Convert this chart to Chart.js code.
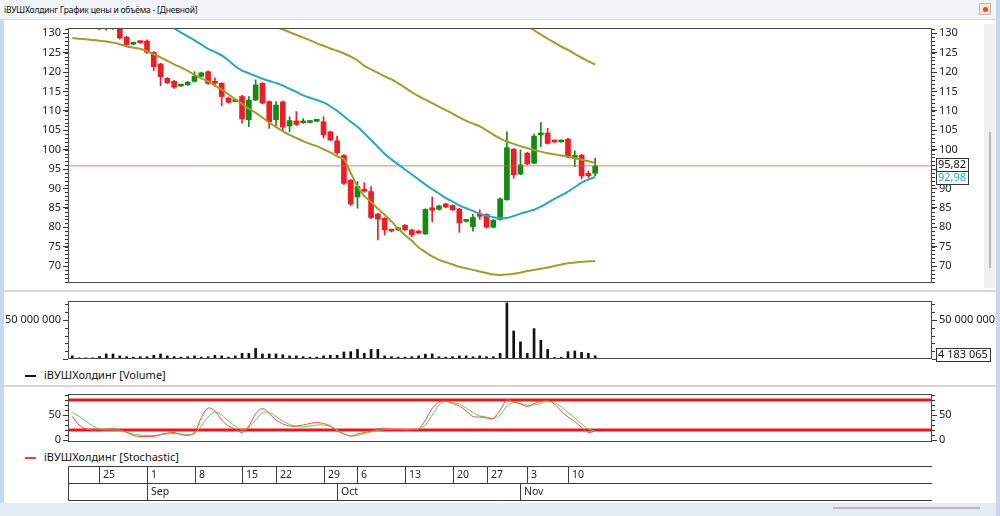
<!DOCTYPE html>
<html lang="ru">
<head>
<meta charset="utf-8">
<title>iВУШХолдинг</title>
<script src="https://cdn.jsdelivr.net/npm/chart.js@4.4.0/dist/chart.umd.min.js"></script>
<style>
  body { margin: 0; width: 1000px; height: 516px; overflow: hidden; position: relative; background: #fff; font-family: "Noto Sans", sans-serif; color: #111; }
  .abs { position: absolute; }
  #titleBar { left: 0; top: 0; width: 1000px; height: 20px; background: #f1f4f8; border-bottom: 1px solid #d5dbe3; box-sizing: border-box; font-size: 8.5px; letter-spacing: -0.2px; line-height: 19px; padding-left: 4px; }
  #icon { left: 979px; top: 3px; width: 12px; height: 12px; background: #f3e3dc; border: 1px solid #d9b8a8; box-sizing: border-box; }
  #icon span { position: absolute; left: 3px; top: 3px; width: 5px; height: 5px; border-radius: 3px; background: #d84a2a; }
  #frameL { left: 0; top: 20px; width: 4px; height: 496px; background: #c6d8ee; }
  #frameR { left: 996px; top: 0; width: 4px; height: 516px; background: #c6d8ee; }
  #frameB { left: 0; top: 503px; width: 1000px; height: 13px; background: #e4ebf3; }
  #scrollV { left: 984px; top: 24px; width: 12px; height: 264px; background: #efefef; }
  #thumbV { left: 989px; top: 132px; width: 2px; height: 136px; background: #b9b9b9; }
  #thumbH { left: 833px; top: 507px; width: 147px; height: 2px; background: #b9b9b9; }
  .sep { left: 4px; width: 992px; height: 2px; background: #d6d6d6; }
  .legend { left: 25px; font-size: 11px; height: 14px; line-height: 14px; white-space: nowrap; }
  .legend i { display: inline-block; width: 11px; height: 2px; vertical-align: middle; margin-right: 8px; }
  canvas { position: absolute; left: 0; }
</style>
</head>
<body>
<div id="titleBar" class="abs">iВУШХолдинг График цены и объёма - [Дневной]</div>
<div id="icon" class="abs"><span></span></div>
<div id="frameL" class="abs"></div>
<div id="scrollV" class="abs"></div>
<div id="thumbV" class="abs"></div>
<div class="sep abs" style="top:290px"></div>
<div class="sep abs" style="top:385px"></div>
<div id="frameB" class="abs"></div>
<div id="thumbH" class="abs"></div>
<div id="frameR" class="abs"></div>
<div class="legend abs" style="top:368px"><i style="background:#111"></i>iВУШХолдинг [Volume]</div>
<div class="legend abs" style="top:450px"><i style="background:#e84040"></i>iВУШХолдинг [Stochastic]</div>

<canvas id="priceChart" width="1000" height="279" style="top:16px"></canvas>
<canvas id="volumeChart" width="1000" height="82" style="top:289px"></canvas>
<canvas id="stochChart" width="1000" height="123" style="top:382px"></canvas>

<script>
// Trading days (one candle each)
const tradingDays = [
    '2025-08-21', '2025-08-22', '2025-08-23', '2025-08-24',
    '2025-08-25', '2025-08-26', '2025-08-27', '2025-08-28', '2025-08-29', '2025-08-30', '2025-08-31',
    '2025-09-01', '2025-09-02', '2025-09-03', '2025-09-04', '2025-09-05', '2025-09-06', '2025-09-07',
    '2025-09-08', '2025-09-09', '2025-09-10', '2025-09-11', '2025-09-12', '2025-09-13', '2025-09-14',
    '2025-09-15', '2025-09-16', '2025-09-17', '2025-09-18', '2025-09-19',
    '2025-09-22', '2025-09-23', '2025-09-24', '2025-09-25', '2025-09-26', '2025-09-27', '2025-09-28',
    '2025-09-29', '2025-09-30', '2025-10-01', '2025-10-02', '2025-10-03',
    '2025-10-06', '2025-10-07', '2025-10-08', '2025-10-09', '2025-10-10', '2025-10-11', '2025-10-12',
    '2025-10-13', '2025-10-14', '2025-10-15', '2025-10-16', '2025-10-17', '2025-10-18', '2025-10-19',
    '2025-10-20', '2025-10-21', '2025-10-22', '2025-10-23', '2025-10-24',
    '2025-10-27', '2025-10-28', '2025-10-29', '2025-10-30', '2025-10-31', '2025-11-01',
    '2025-11-03', '2025-11-04', '2025-11-05', '2025-11-06', '2025-11-07', '2025-11-08',
    '2025-11-10', '2025-11-11', '2025-11-12', '2025-11-13', '2025-11-14'
];

// OHLC
const openPrices = [
    134.0, 134.8, 133.5, 133.0, 132.8, 132.2, 132.5, 132.0, 129.0, 127.2,
    127.8, 128.0, 125.1, 122.1, 118.4, 117.6, 116.4, 116.7, 117.6, 118.9,
    120.1, 117.3, 117.1, 113.3, 112.4, 113.7, 107.7, 112.8, 117.1, 112.4,
    107.7, 112.3, 106.1, 107.4, 106.9, 107.0, 107.3, 107.2, 104.6, 102.3,
    98.5, 92.1, 87.8, 89.6, 89.2, 83.4, 82.3, 79.2, 79.3, 80.5,
    79.3, 78.7, 78.3, 85.0, 84.6, 86.0, 85.6, 84.7, 81.5, 80.1,
    83.0, 83.3, 80.0, 82.0, 87.1, 100.1, 93.7, 99.1, 96.5, 103.8,
    104.3, 102.2, 102.0, 102.7, 98.0, 98.6, 93.9, 93.9
];
const highPrices = [
    135.5, 135.2, 134.2, 133.8, 133.5, 133.0, 133.2, 132.3, 129.3, 127.6,
    128.0, 128.3, 125.3, 122.3, 118.6, 117.9, 116.8, 117.6, 120.1, 120.0,
    120.3, 118.5, 117.3, 113.6, 112.8, 114.0, 113.7, 118.0, 117.3, 112.6,
    112.4, 112.6, 108.5, 109.8, 108.0, 107.4, 107.6, 108.5, 104.8, 103.5,
    98.7, 92.3, 91.8, 91.5, 90.5, 83.6, 82.5, 79.4, 80.0, 80.7,
    79.5, 79.2, 84.8, 87.8, 85.7, 86.2, 85.8, 84.9, 81.9, 83.3,
    84.5, 83.5, 82.0, 87.6, 104.6, 100.3, 99.9, 99.3, 104.0, 107.0,
    105.5, 102.4, 102.4, 102.9, 99.7, 98.8, 94.5, 97.8
];
const lowPrices = [
    133.2, 133.0, 132.4, 131.8, 130.9, 130.8, 131.0, 128.5, 126.8, 127.0,
    127.4, 124.8, 120.4, 116.5, 117.0, 115.8, 116.3, 116.6, 117.4, 118.8,
    116.8, 116.3, 111.3, 112.0, 112.3, 106.8, 105.9, 112.6, 111.8, 105.5,
    106.0, 104.8, 104.6, 106.2, 106.8, 106.9, 107.2, 103.0, 102.3, 98.8,
    91.0, 85.6, 84.9, 89.0, 82.2, 76.7, 78.0, 78.8, 79.1, 79.2,
    77.5, 78.3, 78.1, 81.4, 84.4, 85.0, 84.3, 78.7, 81.3, 79.0,
    82.0, 79.8, 79.8, 81.8, 86.9, 92.6, 93.5, 96.1, 96.3, 100.8,
    101.4, 101.8, 101.9, 97.9, 95.6, 92.5, 92.8, 93.3
];
const closePrices = [
    134.8, 133.5, 133.0, 132.6, 132.2, 132.5, 132.0, 128.8, 127.1, 127.5,
    127.6, 125.1, 121.4, 118.8, 117.2, 116.1, 116.6, 117.4, 118.9, 119.8,
    117.1, 117.1, 113.7, 112.2, 112.6, 107.9, 112.8, 116.7, 112.0, 107.2,
    111.5, 105.8, 107.5, 106.5, 107.1, 107.2, 107.5, 103.8, 102.5, 99.2,
    91.3, 86.0, 90.5, 89.3, 82.5, 82.1, 79.3, 79.0, 79.8, 79.3,
    78.0, 78.5, 84.6, 84.4, 85.5, 85.2, 84.5, 81.1, 81.7, 82.5,
    82.8, 80.0, 81.8, 87.3, 100.5, 93.5, 96.1, 96.3, 103.5, 104.1,
    101.6, 102.0, 102.2, 98.1, 98.3, 93.2, 93.3, 95.82
];

// Bollinger bands (olive) and moving average (cyan)
const bbUpper = [
    null, null, null, null, null, null, null, null, null, null,
    null, null, null, null, null, null, null, null, null, null,
    null, null, null, null, null, null, null, null, null, null,
    null, null, null, null, null, null, null, null, null, null,
    null, null, null, null, null, null, null, null, null, null,
    null, null, null, null, null, null, null, null, null, null,
    null, null, null, 138.0, 136.4, 135.0, 133.5, 132.1, 130.8, 129.7,
    128.6, 127.6, 126.6, 125.7, 124.7, 123.7, 122.8, 121.9
];
const bbMiddle = [
    null, null, null, null, null, null, null, null, null, null,
    null, null, null, null, null, null, null, null, null, null,
    null, null, null, null, null, 135.0, 134.2, 133.5, 132.7, 132.0,
    131.5, 131.0, 130.3, 129.6, 128.9, 128.2, 127.4, 126.8, 126.1, 125.5,
    124.8, 124.0, 123.0, 121.6, 120.7, 119.8, 118.9, 118.1, 117.1, 116.0,
    114.8, 113.8, 112.9, 112.0, 111.1, 110.2, 109.3, 108.3, 107.4, 106.7,
    106.0, 105.0, 103.9, 102.9, 102.1, 101.5, 100.9, 100.4, 99.9, 99.5,
    99.1, 98.8, 98.5, 98.2, 97.8, 97.4, 97.0, 96.6
];
const bbLower = [
    128.8, 128.6, 128.5, 128.3, 128.1, 127.9, 127.6, 127.2, 126.6, 126.3,
    126.0, 125.4, 124.6, 123.8, 122.9, 122.0, 121.2, 120.3, 119.3, 118.4,
    117.6, 116.5, 115.5, 114.3, 113.0, 111.8, 110.6, 109.5, 108.3, 107.0,
    105.8, 104.8, 103.8, 103.0, 102.2, 101.5, 100.9, 100.1, 99.3, 98.3,
    97.5, 94.0, 90.5, 88.0, 86.5, 84.8, 83.2, 81.5, 79.6, 78.0,
    76.5, 74.8, 73.6, 72.5, 71.6, 71.0, 70.4, 69.8, 69.4, 69.0,
    68.6, 68.2, 67.8, 67.7, 67.8, 68.0, 68.3, 68.7, 69.0, 69.3,
    69.6, 70.0, 70.4, 70.7, 70.9, 71.1, 71.2, 71.3
];
const maLine = [
    null, null, null, null, null, null, null, null, null, null,
    null, null, null, 133.5, 132.3, 131.3, 130.2, 129.2, 128.2, 127.1,
    126.0, 125.2, 124.3, 123.0, 121.5, 120.4, 119.7, 119.0, 118.3, 117.7,
    117.2, 116.5, 115.7, 114.9, 114.0, 113.4, 112.8, 112.2, 111.2, 110.0,
    108.6, 107.2, 105.9, 104.2, 102.5, 100.7, 98.9, 97.5, 96.2, 94.9,
    93.6, 92.3, 91.0, 89.8, 88.7, 87.5, 86.6, 85.6, 84.9, 84.2,
    83.5, 83.0, 82.6, 82.3, 82.4, 82.9, 83.5, 84.0, 84.5, 85.3,
    86.3, 87.3, 88.2, 89.2, 90.3, 91.5, 92.3, 92.98
];

// Volume
const volumes = [
    4000000, 1500000, 1500000, 1500000, 3200000, 6500000, 6500000, 4000000, 3000000, 2400000,
    3000000, 3000000, 4800000, 6500000, 4000000, 3000000, 2400000, 3000000, 4000000, 2400000,
    3000000, 4800000, 4000000, 2400000, 4000000, 7300000, 7300000, 13500000, 6500000, 6500000,
    6500000, 5400000, 4000000, 4000000, 3000000, 2400000, 2400000, 4000000, 4800000, 4800000,
    9000000, 9400000, 12300000, 7300000, 12300000, 12300000, 4000000, 3000000, 2400000, 2400000,
    3000000, 4000000, 6200000, 6500000, 3000000, 2400000, 3000000, 4000000, 4000000, 3000000,
    4000000, 3000000, 3000000, 7300000, 72000000, 36000000, 22000000, 7300000, 39000000, 24000000,
    12300000, 1800000, 2200000, 9400000, 10300000, 8600000, 7300000, 4183065
];

// Stochastic %K (red) and %D (green)
const stochK = [
    47, 30, 22, 20, 20, 21, 22, 20, 16, 9,
    7, 7, 7, 11, 14, 15, 11, 9, 14, 45,
    64, 58, 40, 28, 22, 15, 28, 52, 63, 53,
    40, 32, 28, 28, 30, 33, 35, 33, 28, 18,
    12, 8, 12, 15, 18, 22, 23, 21, 21, 20,
    21, 22, 40, 63, 76, 78, 73, 68, 58, 47,
    46, 44, 43, 60, 80, 76, 72, 67, 73, 77,
    79, 72, 58, 46, 37, 25, 15, 18
];
const stochD = [
    55, 47, 38, 28, 22, 20, 20, 19, 15, 12,
    10, 9, 9, 10, 12, 13, 12, 11, 13, 28,
    46, 56, 50, 38, 28, 20, 25, 40, 55, 55,
    47, 38, 31, 27, 26, 28, 30, 30, 27, 20,
    13, 8, 9, 13, 16, 19, 21, 21, 21, 21,
    21, 22, 30, 50, 70, 77, 75, 72, 64, 55,
    48, 46, 43, 50, 68, 75, 73, 70, 70, 73,
    77, 75, 66, 55, 44, 32, 22, 18
];
const stochLevels = [80, 20];

const monthNames = ['Jan', 'Feb', 'Mar', 'Apr', 'May', 'Jun', 'Jul', 'Aug', 'Sep', 'Oct', 'Nov', 'Dec'];

// Visible index range of the shared x axis
const X_MIN = -0.63;
const X_MAX = 126.6;

const OLIVE = '#a29c2a';
const CYAN = '#27a8bd';
const UP = '#138a13';
const DOWN = '#ee1c24';

Chart.defaults.font.family = '"Noto Sans", sans-serif';
Chart.defaults.font.size = 11;
Chart.defaults.color = '#222';
Chart.defaults.animation = false;
Chart.defaults.events = [];

const lastIdx = closePrices.length - 1;
const lastClose = closePrices[lastIdx];
const lastMa = maLine[lastIdx];
const lastVolume = volumes[lastIdx];

const dayObjs = tradingDays.map(d => new Date(d + 'T00:00:00Z'));
const weekStarts = dayObjs.map((d, i) => d.getUTCDay() === 1 ? i : -1).filter(i => i >= 0);
const monthStarts = dayObjs.map((d, i) => i > 0 && d.getUTCMonth() !== dayObjs[i - 1].getUTCMonth() ? i : -1).filter(i => i >= 0);

function pts(arr) {
    return arr.map((v, i) => ({ x: i, y: v }));
}

function spaced(v) {
    return String(Math.round(v)).replace(/\B(?=(\d{3})+(?!\d))/g, ' ');
}

function comma(v) {
    return v.toFixed(2).replace('.', ',');
}

function xAxis() {
    return { type: 'linear', display: false, offset: false, min: X_MIN, max: X_MAX };
}

function yAxis(position, min, max, step, fmt) {
    return {
        position: position,
        min: min,
        max: max,
        afterFit: s => { s.width = 68; },
        // labelled ticks at every multiple of step
        afterBuildTicks: s => {
            const ticks = [];
            for (let k = Math.ceil(min / step); k * step <= max; k++) ticks.push({ value: k * step });
            s.ticks = ticks;
        },
        border: { display: false },
        grid: { drawOnChartArea: false, tickLength: 5, tickColor: '#333' },
        ticks: { autoSkip: false, padding: 2, callback: fmt }
    };
}

// Box around the plot area
const frameBox = {
    id: 'frameBox',
    afterDraw(chart) {
        const a = chart.chartArea, c = chart.ctx;
        c.save();
        c.strokeStyle = '#4a4a4a';
        c.lineWidth = 1;
        c.strokeRect(Math.round(a.left) + 0.5, Math.round(a.top) + 0.5,
            Math.round(a.right - a.left) - 1, Math.round(a.bottom - a.top) - 1);
        c.restore();
    }
};

// Short minor ticks between the labelled ones
const minorTicks = {
    id: 'minorTicks',
    afterDraw(chart, args, opts) {
        const step = opts.step;
        if (!step) return;
        const c = chart.ctx;
        c.save();
        c.strokeStyle = '#333';
        c.lineWidth = 1;
        c.beginPath();
        Object.values(chart.scales).forEach(s => {
            if (s.axis !== 'y') return;
            for (let k = Math.ceil(s.min / step); k * step <= s.max; k++) {
                const y = Math.round(s.getPixelForValue(k * step)) + 0.5;
                if (s.position === 'left') {
                    c.moveTo(s.right - 3, y); c.lineTo(s.right, y);
                } else {
                    c.moveTo(s.left, y); c.lineTo(s.left + 3, y);
                }
            }
        });
        c.stroke();
        c.restore();
    }
};

function drawValueBox(c, x, y, text, color) {
    c.font = '11px "Noto Sans"';
    const w = Math.round(c.measureText(text).width) + 4;
    c.fillStyle = '#fff';
    c.fillRect(x, y, w, 13);
    c.strokeStyle = '#333';
    c.lineWidth = 1;
    c.strokeRect(x + 0.5, y + 0.5, w, 13);
    c.fillStyle = color;
    c.textBaseline = 'middle';
    c.fillText(text, x + 2, y + 7);
}

const priceBoxes = {
    id: 'priceBoxes',
    afterDraw(chart) {
        const s = chart.scales.yR, c = chart.ctx;
        const yMa = Math.round(s.getPixelForValue(lastMa)) - 6;
        c.save();
        drawValueBox(c, Math.round(s.left) + 4, yMa, comma(lastMa), CYAN);
        drawValueBox(c, Math.round(s.left) + 4, yMa - 13, comma(lastClose), '#111');
        c.restore();
    }
};

const volumeBox = {
    id: 'volumeBox',
    afterDraw(chart) {
        const s = chart.scales.yR, c = chart.ctx;
        const y = Math.round(s.getPixelForValue(lastVolume)) - 8;
        c.save();
        drawValueBox(c, Math.round(s.left) + 4, y, spaced(lastVolume), '#111');
        c.restore();
    }
};

// Week / month table under the stochastic panel
const dateTable = {
    id: 'dateTable',
    afterDraw(chart) {
        const xs = chart.scales.x, a = chart.chartArea, c = chart.ctx;
        const top = Math.round(a.bottom) + 24.5, mid = top + 17, bot = mid + 17;
        const left = Math.round(a.left) + 0.5, right = Math.round(a.right);
        const px = i => Math.round(xs.getPixelForValue(i)) + 0.5;
        c.save();
        c.strokeStyle = '#3c3c3c';
        c.lineWidth = 1;
        c.beginPath();
        [top, mid, bot].forEach(y => { c.moveTo(left, y); c.lineTo(right, y); });
        c.moveTo(left, top); c.lineTo(left, bot);
        weekStarts.forEach(i => { c.moveTo(px(i), top); c.lineTo(px(i), mid); });
        monthStarts.forEach(i => { c.moveTo(px(i), mid); c.lineTo(px(i), bot); });
        c.stroke();
        c.fillStyle = '#222';
        c.font = '10.5px "Noto Sans"';
        c.textBaseline = 'middle';
        weekStarts.forEach(i => c.fillText(String(dayObjs[i].getUTCDate()), px(i) + 3.5, top + 9));
        monthStarts.forEach(i => c.fillText(monthNames[dayObjs[i].getUTCMonth()], px(i) + 3.5, mid + 9));
        c.restore();
    }
};

const candleColors = closePrices.map((c, i) => c >= openPrices[i] ? UP : DOWN);
const priceFmt = v => String(v);

// Price panel
new Chart(document.getElementById('priceChart'), {
    type: 'bar',
    data: {
        datasets: [
            { type: 'line', data: pts(bbUpper), borderColor: OLIVE, borderWidth: 2, pointRadius: 0, tension: 0.3, yAxisID: 'yL', order: 0 },
            { type: 'line', data: pts(bbMiddle), borderColor: OLIVE, borderWidth: 2, pointRadius: 0, tension: 0.3, yAxisID: 'yL', order: 0 },
            { type: 'line', data: pts(bbLower), borderColor: OLIVE, borderWidth: 2, pointRadius: 0, tension: 0.3, yAxisID: 'yL', order: 0 },
            { type: 'line', data: pts(maLine), borderColor: CYAN, borderWidth: 2, pointRadius: 0, tension: 0.3, yAxisID: 'yL', order: 0 },
            {
                type: 'line',
                data: [{ x: X_MIN, y: lastClose }, { x: X_MAX, y: lastClose }],
                borderColor: 'rgba(226, 90, 90, 0.8)', borderWidth: 1, pointRadius: 0, yAxisID: 'yL', order: 1
            },
            {
                data: openPrices.map((o, i) => ({ x: i, y: [o, closePrices[i]] })),
                backgroundColor: candleColors, barThickness: 5, minBarLength: 2, grouped: false, yAxisID: 'yL', order: 2
            },
            {
                data: lowPrices.map((l, i) => ({ x: i, y: [l, highPrices[i]] })),
                backgroundColor: candleColors, barThickness: 1, grouped: false, yAxisID: 'yL', order: 3
            }
        ]
    },
    options: {
        responsive: false,
        layout: { padding: { top: 12, bottom: 12, left: 0, right: 0 } },
        plugins: { legend: { display: false }, tooltip: { enabled: false }, minorTicks: { step: 1 } },
        scales: {
            x: xAxis(),
            yL: yAxis('left', 65.62, 131.37, 5, priceFmt),
            yR: yAxis('right', 65.62, 131.37, 5, priceFmt)
        }
    },
    plugins: [frameBox, minorTicks, priceBoxes]
});

// Volume panel
const volFmt = v => v === 0 ? '' : spaced(v);
new Chart(document.getElementById('volumeChart'), {
    type: 'bar',
    data: {
        datasets: [{
            data: pts(volumes), backgroundColor: '#111', barThickness: 2, yAxisID: 'yL'
        }]
    },
    options: {
        responsive: false,
        layout: { padding: { top: 12, bottom: 12, left: 0, right: 0 } },
        plugins: { legend: { display: false }, tooltip: { enabled: false }, minorTicks: { step: 10000000 } },
        scales: {
            x: xAxis(),
            yL: yAxis('left', 0, 74400000, 50000000, volFmt),
            yR: yAxis('right', 0, 74400000, 50000000, volFmt)
        }
    },
    plugins: [frameBox, minorTicks, volumeBox]
});

// Stochastic panel
const stochFmt = v => String(v);
new Chart(document.getElementById('stochChart'), {
    type: 'line',
    data: {
        datasets: [
            { data: pts(stochK), borderColor: '#ff4646', borderWidth: 1, pointRadius: 0, tension: 0.3, yAxisID: 'yL', order: 0 },
            { data: pts(stochD), borderColor: '#52d652', borderWidth: 1, pointRadius: 0, tension: 0.3, yAxisID: 'yL', order: 1 },
            ...stochLevels.map(level => ({
                data: [{ x: X_MIN, y: level }, { x: X_MAX, y: level }],
                borderColor: 'rgba(225, 0, 0, 0.9)', borderWidth: 3, pointRadius: 0, yAxisID: 'yL', order: 2
            }))
        ]
    },
    options: {
        responsive: false,
        layout: { padding: { top: 12, bottom: 63, left: 0, right: 0 } },
        plugins: { legend: { display: false }, tooltip: { enabled: false }, minorTicks: { step: 10 } },
        scales: {
            x: xAxis(),
            yL: yAxis('left', -4, 92, 50, stochFmt),
            yR: yAxis('right', -4, 92, 50, stochFmt)
        }
    },
    plugins: [frameBox, minorTicks, dateTable]
});
</script>
</body>
</html>
